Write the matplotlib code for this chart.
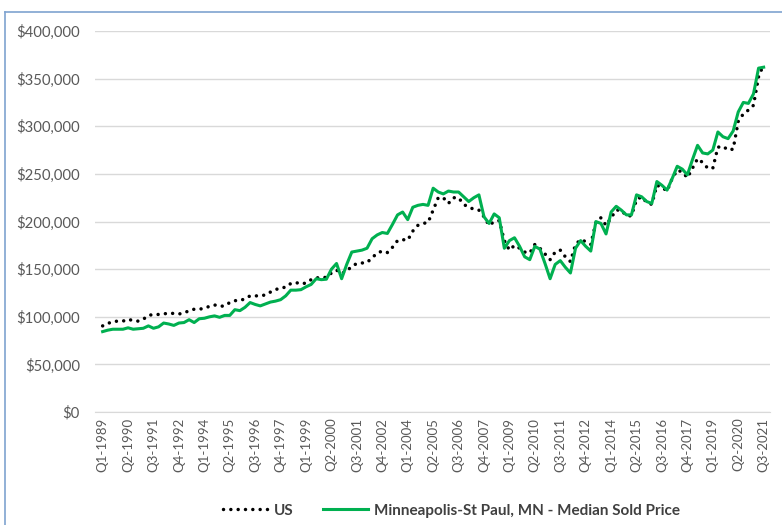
import matplotlib
matplotlib.use("Agg")
import matplotlib.pyplot as plt
from matplotlib.ticker import FuncFormatter
from matplotlib.lines import Line2D

# quarterly median sold price, thousands of dollars, Q1-1989 .. Q3-2021
us = [
    90.5, 93, 95, 95.5,        # 1989
    95.5, 97.5, 96, 95.5,      # 1990
    97.5, 101.5, 102.5, 102.5, # 1991
    103, 104, 103.5, 103,      # 1992
    104, 106.5, 108, 108,      # 1993
    109, 111, 112.5, 111,      # 1994
    111.5, 115, 117, 117,      # 1995
    119, 122, 122, 122,        # 1996
    123, 126, 128.5, 130.5,    # 1997
    131, 135, 136, 134.5,      # 1998
    135.5, 139, 141, 141,      # 1999
    141.5, 146, 149, 145.5,    # 2000
    148, 153, 156, 156.5,      # 2001
    157, 162, 167, 169,        # 2002
    167.5, 173, 180, 181,      # 2003
    180.5, 190, 196, 198,      # 2004
    199, 212, 225, 225,        # 2005
    219, 225, 225, 218,        # 2006
    215, 213, 212, 205,        # 2007
    196, 200, 201, 180,        # 2008
    170, 175, 172, 168,        # 2009
    167, 176, 172, 166,        # 2010
    160, 168, 170, 163,        # 2011
    158, 176, 181, 179,        # 2012
    176, 199, 204, 196,        # 2013
    204, 212, 212, 206,        # 2014
    206, 223, 226, 220,        # 2015
    218, 238, 236, 232,        # 2016
    245, 254, 252, 246,        # 2017
    256, 266, 262, 256,        # 2018
    256, 278, 279, 275,        # 2019
    276, 305, 313, 317,        # 2020
    322, 352, 365,             # 2021
]

msp = [
    84.5, 86, 87, 87,          # 1989
    87, 88.5, 87, 87.5,        # 1990
    88, 90.5, 88, 89.5,        # 1991
    93.5, 92.5, 91, 93.5,      # 1992
    94, 97, 94, 98,            # 1993
    98.5, 100, 101, 99.5,      # 1994
    101.5, 101.5, 107.5, 106.5,# 1995
    110, 115, 113, 111.5,      # 1996
    113.5, 115.5, 116.5, 118,  # 1997
    122, 128, 128, 128.5,      # 1998
    131.5, 134, 140, 139,      # 1999
    139.5, 150, 156, 140,      # 2000
    155, 168, 169, 170,        # 2001
    172, 182, 186, 188.5,      # 2002
    187.5, 197, 207, 210,      # 2003
    202, 215, 217, 218,        # 2004
    217, 235, 231, 229,        # 2005
    232, 231, 231, 226,        # 2006
    221, 225, 228, 205,        # 2007
    198, 208, 204, 172,        # 2008
    180, 183, 174, 163,        # 2009
    160, 174, 171, 156,        # 2010
    140, 155, 159, 152,        # 2011
    146, 172, 180, 174,        # 2012
    169, 200, 198, 187,        # 2013
    210, 216, 212, 207,        # 2014
    207, 228, 226, 221,        # 2015
    219, 242, 238, 233,        # 2016
    245, 258, 255, 249,        # 2017
    265, 280, 272, 271,        # 2018
    275, 294, 289, 287,        # 2019
    295, 315, 325, 324,        # 2020
    334, 361, 362,             # 2021
]

quarters = ["Q%d-%d" % (q, y) for y in range(1989, 2022) for q in range(1, 5)][:len(us)]

plt.rcParams["font.family"] = ["Lato", "DejaVu Sans"]

fig = plt.figure(figsize=(7.82, 5.25), dpi=100)
ax = fig.add_axes([0.1215, 0.215, 0.8635, 0.726])

x = list(range(len(us)))
ax.plot(x, [v * 1000 for v in us], color="black", linewidth=2.5,
        linestyle=(0, (0.01, 2.1)), dash_capstyle="round", label="US", zorder=3)
ax.plot(x, [v * 1000 for v in msp], color="#00B050", linewidth=2.2,
        label="Minneapolis-St Paul, MN - Median Sold Price", zorder=4)

ax.set_ylim(0, 400000)
ax.set_xlim(-1.5, len(us) + 0.3)
ax.set_yticks(range(0, 400001, 50000))
ax.yaxis.set_major_formatter(FuncFormatter(lambda v, p: "${:,.0f}".format(v)))
ax.set_xticks(x[::5])
ax.set_xticklabels(quarters[::5], rotation=90)
ax.tick_params(axis="both", length=0, colors="#595959")
ax.tick_params(axis="x", labelsize=9.5, pad=4)
ax.tick_params(axis="y", labelsize=10.7, pad=11)
ax.grid(axis="y", color="#D9D9D9", linewidth=1)
ax.set_axisbelow(True)
for s in ["top", "right", "left"]:
    ax.spines[s].set_visible(False)
ax.spines["bottom"].set_color("#D9D9D9")

leg = fig.legend(loc="lower center", bbox_to_anchor=(0.577, -0.012), ncol=2, frameon=False,
                 handlelength=3.0, columnspacing=1.9, handletextpad=0.35,
                 prop={"size": 11, "weight": "bold"})
for t in leg.get_texts():
    t.set_color("#404040")

# chart border from the screenshot
fig.add_artist(Line2D([5 / 782, 5 / 782], [0, 1 - 12 / 525], color="#7FA3D0", linewidth=1.2))
fig.add_artist(Line2D([5 / 782, 1], [1 - 12 / 525, 1 - 12 / 525], color="#7FA3D0", linewidth=1.2))

fig.savefig("out.png", dpi=100)
